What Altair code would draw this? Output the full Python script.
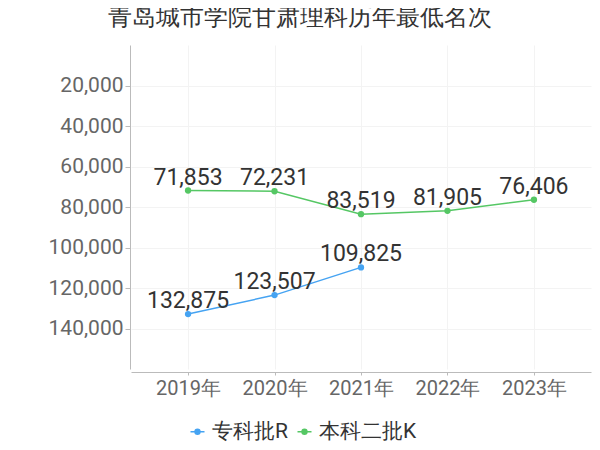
import altair as alt
import pandas as pd

years = ["2019年", "2020年", "2021年", "2022年", "2023年"]
series_names = ["专科批R", "本科二批K"]
zhuanke = [132875, 123507, 109825, None, None]
benke = [71853, 72231, 83519, 81905, 76406]
colors = ["#45a3f2", "#55c764"]
y_ticks = [20000, 40000, 60000, 80000, 100000, 120000, 140000]

rows = []
for name, vals in zip(series_names, [zhuanke, benke]):
    for y, v in zip(years, vals):
        if v is not None:
            rows.append({"year": y, "series": name, "rank": v})
df = pd.DataFrame(rows)

FONT = "Roboto"

x_enc = alt.X("year:N", sort=years, title=None,
              scale=alt.Scale(type="point", padding=0.66),
              axis=alt.Axis(labelAngle=0, labelFontSize=20, labelColor="#666",
                            labelFont=FONT, tickSize=3, tickColor="#bbb",
                            domainColor="#bbb", labelPadding=3, offset=3,
                            grid=True, gridColor="#f3f3f3"))
y_enc = alt.Y("rank:Q", title=None,
              scale=alt.Scale(domain=[0, 160000], reverse=True, nice=False),
              axis=alt.Axis(values=y_ticks, format=",.0f", labelFontSize=21,
                            labelColor="#666", labelFont=FONT, tickSize=5,
                            tickColor="#bbb", domainColor="#bbb", labelPadding=2,
                            offset=1, grid=True, gridColor="#f3f3f3"))
color_enc = alt.Color("series:N",
                      scale=alt.Scale(domain=series_names, range=colors),
                      legend=alt.Legend(title=None, orient="none", direction="horizontal",
                                        legendX=56, legendY=376,
                                        labelFontSize=21, labelColor="#333", labelFont=FONT,
                                        symbolType="M-1,0L-0.35,0M0.35,0L1,0M0.35,0A0.35,0.35 0 1,1 -0.35,0A0.35,0.35 0 1,1 0.35,0",
                                        symbolSize=196, symbolStrokeWidth=1.5,
                                        labelOffset=4, columnPadding=6))

base = alt.Chart(df).encode(x=x_enc, y=y_enc, color=color_enc)
line = base.mark_line(strokeWidth=1.5)
pts = base.mark_circle(size=40, opacity=1)
text = base.mark_text(dy=-6, baseline="alphabetic", fontSize=23, font=FONT).encode(
    text=alt.Text("rank:Q", format=",.0f"), color=alt.value("#333"))

chart = alt.layer(line, pts, text).properties(
    width=460, height=324,
    autosize=alt.AutoSizeParams(type="none"),
    padding={"left": 123, "top": 37, "right": 1, "bottom": 73},
    title=alt.Title("青岛城市学院甘肃理科历年最低名次", fontSize=24, color="#333",
                    anchor="middle", frame="group", dx=-61, offset=15,
                    fontWeight="normal"),
).configure_view(stroke=None)

chart.save("out.html", embed_options={"renderer": "svg", "actions": False})
